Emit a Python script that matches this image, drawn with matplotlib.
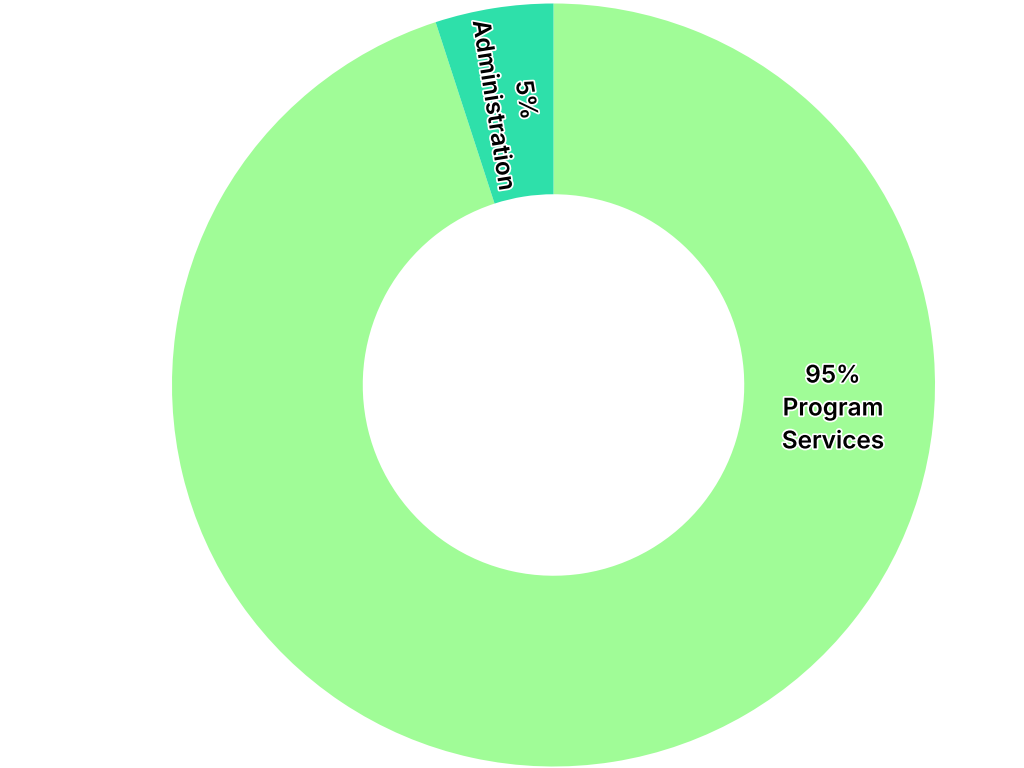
import numpy as np
import matplotlib.pyplot as plt
import matplotlib.patheffects as pe

labels = ["Program\nServices", "Administration"]
values = [95, 5]
colors = ["#a0fc97", "#2ee0aa"]

plt.rcParams['font.family'] = ['Inter', 'DejaVu Sans']

fig = plt.figure(figsize=(10.24, 7.68), dpi=100)
ax = fig.add_axes([172 / 1024, 1.5 / 768, 763 / 1024, 763 / 768])

wedges, _ = ax.pie(values, colors=colors, startangle=90, counterclock=False,
                   radius=1.0, wedgeprops=dict(width=0.5, linewidth=0))
ax.set_xlim(-1, 1)
ax.set_ylim(-1, 1)
ax.set_aspect('equal')
ax.axis('off')

outline = [pe.withStroke(linewidth=2.5, foreground='white')]

# program services label sits near the right side of the ring
ang = np.deg2rad(-4.9)
r = 0.735
ax.text(r * np.cos(ang), r * np.sin(ang), "%d%%\n%s" % (values[0], labels[0]),
        ha='center', va='center', fontsize=17.5, fontweight=600, linespacing=1.55,
        path_effects=outline)

# administration label runs along the slice
w = wedges[1]
ang_deg = (w.theta1 + w.theta2) / 2
ang = np.deg2rad(ang_deg)
r = 0.75
ax.text(r * np.cos(ang), r * np.sin(ang), "%d%%\n%s" % (values[1], labels[1]),
        ha='center', va='center', fontsize=17.5, fontweight=600, linespacing=1.55,
        rotation=ang_deg - 180, rotation_mode='anchor', path_effects=outline)

plt.savefig('out.png', dpi=100)
